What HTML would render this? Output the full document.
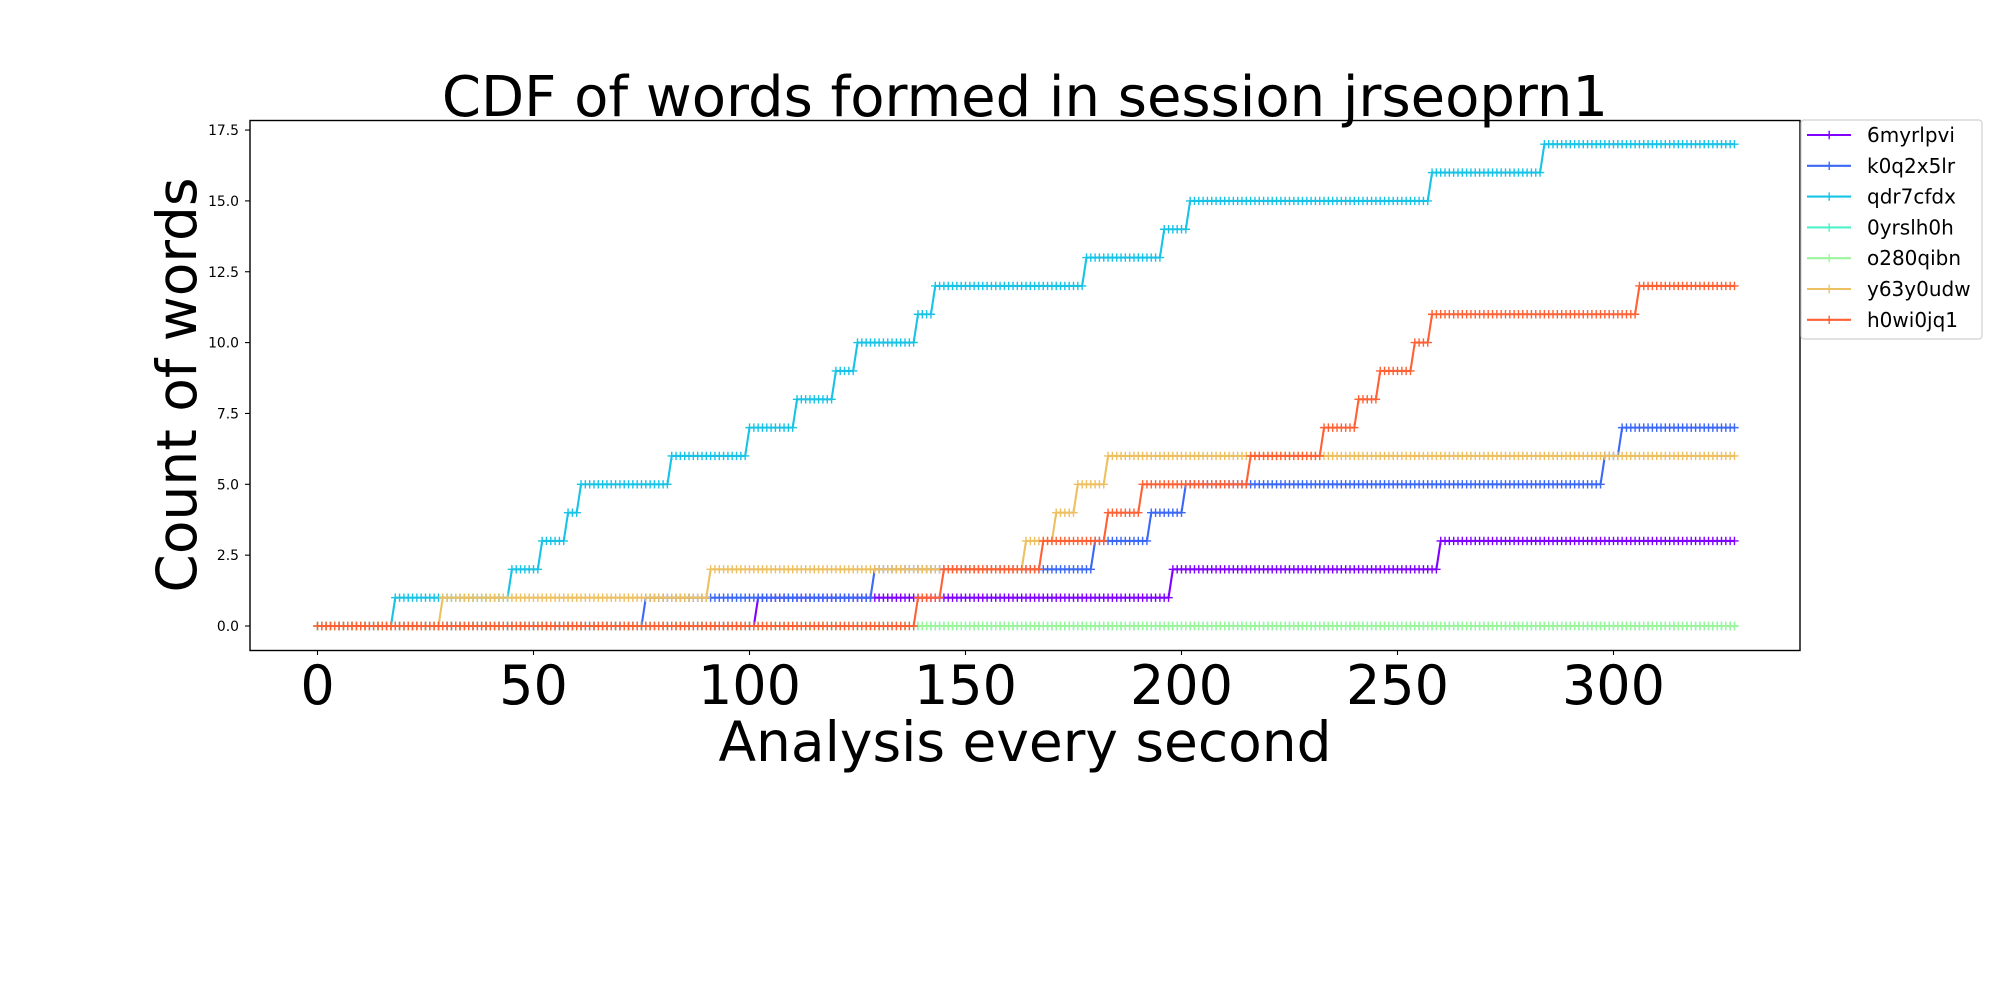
<!DOCTYPE html>
<html><head><meta charset="utf-8"><style>
html,body{margin:0;padding:0;background:#fff;}
svg{display:block;font-family:"DejaVu Sans","Liberation Sans",sans-serif;}
</style></head><body>
<svg id="chart" width="2000" height="1000" viewBox="0 0 2000 1000">
<rect x="0" y="0" width="2000" height="1000" fill="#fff"/>
<text x="1025" y="116" font-size="56" text-anchor="middle">CDF of words formed in session jrseoprn1</text>
<g id="plot"></g>
<rect x="250" y="120.5" width="1550" height="530" fill="none" stroke="#000" stroke-width="1.4"/>
<g id="xticks"></g>
<g id="yticks"></g>
<text x="1025" y="761" font-size="55" text-anchor="middle">Analysis every second</text>
<text transform="translate(196,385) rotate(-90)" font-size="55" text-anchor="middle">Count of words</text>
<g id="legend"></g>
</svg>
<script>
const seriesNames = ["6myrlpvi","k0q2x5lr","qdr7cfdx","0yrslh0h","o280qibn","y63y0udw","h0wi0jq1"];
const seriesColors = ["#8000ff","#3b68f6","#18c4e6","#4cf2c8","#9cf59a","#edc062","#ff6134"];
// step times (seconds) at which each series' count increases by one
const steps6myrlpvi = [102,198,260];
const stepsK0q2x5lr = [76,129,180,193,201,298,302];
const stepsQdr7cfdx = [18,45,52,58,61,82,100,111,120,125,139,143,178,196,202,258,284];
const steps0yrslh0h = [];
const stepsO280qibn = [];
const stepsY63y0udw = [29,91,164,171,176,183];
const stepsH0wi0jq1 = [139,145,168,183,191,216,233,241,246,254,258,306];
const tMax = 328;
const xTicks = [0,50,100,150,200,250,300];
const yTicks = [0,2.5,5,7.5,10,12.5,15,17.5];
const yTickLabels = ["0.0","2.5","5.0","7.5","10.0","12.5","15.0","17.5"];

const allSteps = [steps6myrlpvi,stepsK0q2x5lr,stepsQdr7cfdx,steps0yrslh0h,stepsO280qibn,stepsY63y0udw,stepsH0wi0jq1];
const NS="http://www.w3.org/2000/svg";
function X(v){return 317.5+v*4.32;}
function Y(v){return 626-v*28.34;}
function mk(tag,attrs,parent){const e=document.createElementNS(NS,tag);for(const k in attrs)e.setAttribute(k,attrs[k]);parent.appendChild(e);return e;}

const plot=document.getElementById('plot');
allSteps.forEach((st,i)=>{
  const g=mk('g',{},plot);
  
  
  let pts=[],mark='';
  for(let t=0;t<=tMax;t++){
    const c=st.filter(s=>s<=t).length;
    const x=X(t),y=Y(c);
    pts.push(x.toFixed(2)+','+y.toFixed(2));
    mark+='M'+(x-4.2).toFixed(2)+' '+y.toFixed(2)+'h8.4M'+x.toFixed(2)+' '+(y-4.2).toFixed(2)+'v8.4';
  }
  const l=mk('polyline',{points:pts.join(' '),fill:'none',stroke:seriesColors[i],'stroke-width':2.1,'stroke-linejoin':'round'},g);
  
  
  const m=mk('path',{d:mark,stroke:seriesColors[i],'stroke-width':1.4,fill:'none'},g);
  
  
});

const xg=document.getElementById('xticks');
xTicks.forEach(v=>{
  const t=mk('line',{x1:X(v),x2:X(v),y1:650,y2:655,stroke:'#000','stroke-width':1.1},xg);
  
  
  const tx=mk('text',{x:X(v),y:704,'font-size':54,'text-anchor':'middle'},xg);
  tx.textContent=v;
  
  
});
const yg=document.getElementById('yticks');
yTicks.forEach((v,i)=>{
  const t=mk('line',{x1:245,x2:250,y1:Y(v),y2:Y(v),stroke:'#000','stroke-width':1.1},yg);
  
  
  const tx=mk('text',{x:239,y:Y(v)+5,'font-size':13.9,'text-anchor':'end'},yg);
  tx.textContent=yTickLabels[i];
  
  
});

const lg=document.getElementById('legend');
const box=mk('rect',{x:1801,y:120,width:181,height:219,rx:3,fill:'#fff',stroke:'#d0d0d0','stroke-width':1.2},lg);


seriesNames.forEach((n,i)=>{
  const y=135+i*30.8;
  const g=mk('g',{},lg);
  
  
  mk('line',{x1:1807,x2:1851,y1:y,y2:y,stroke:seriesColors[i],'stroke-width':2.1},g);
  mk('path',{d:'M1825 '+y+'h8.4M1829.2 '+(y-4.2)+'v8.4',stroke:seriesColors[i],'stroke-width':1.4},g);
  const tx=mk('text',{x:1867,y:y+7,'font-size':20},g);
  tx.textContent=n;
});
</script>
</body></html>
